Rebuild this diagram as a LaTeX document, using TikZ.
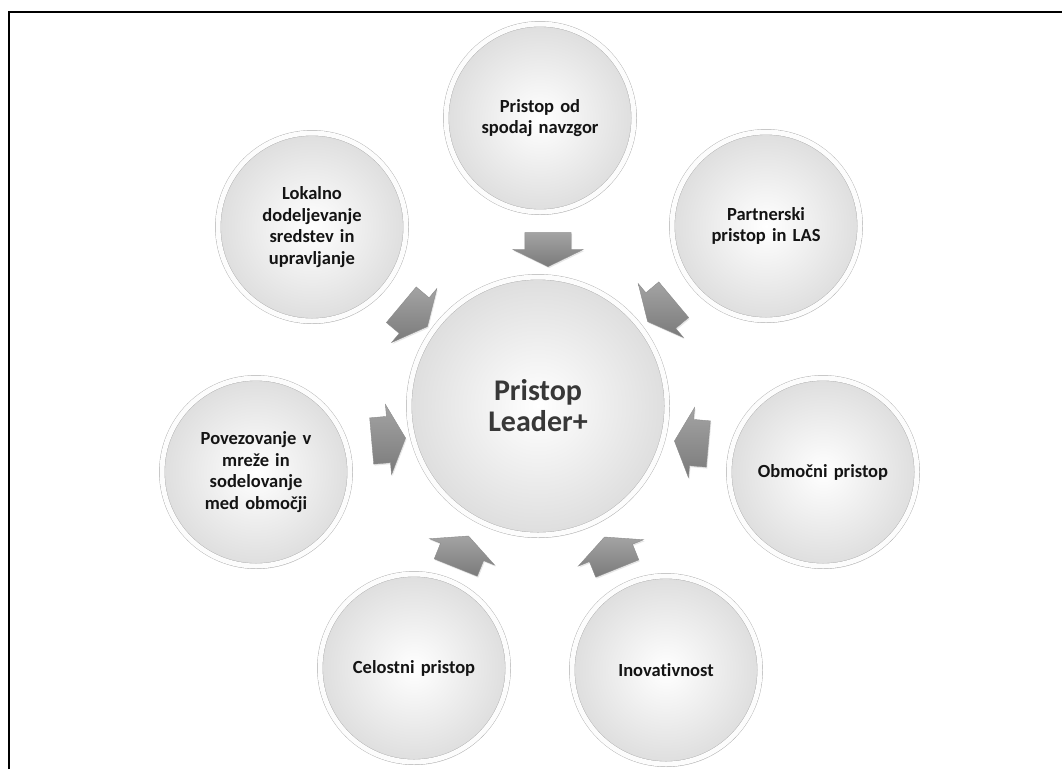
\documentclass[tikz,border=0pt]{standalone}
\usepackage{fontspec}
\setmainfont{Carlito}[Ligatures=NoCommon]
\usetikzlibrary{shapes,arrows,shadows}

\begin{document}
\begin{tikzpicture}[x=1pt,y=-1pt]
	\tikzstyle{cadre}=[line width=1.8pt]
	\tikzstyle{krog}=[circle,draw=black!32,double=black!1,double distance=5pt,
	inner color=white,outer color=black!13,inner sep=0pt,minimum size=188pt,
	text width=150pt,align=center,font=\fontsize{18.5}{21.5}\selectfont\bfseries,
	text=black!92,drop shadow={shadow xshift=1pt,shadow yshift=-3pt,opacity=.25}]
	\tikzstyle{sredina}=[krog,minimum size=258pt,text width=200pt,
	font=\fontsize{30}{31}\selectfont\bfseries,text=black!78]
	\tikzstyle{puscica}=[single arrow,minimum height=34pt,
	single arrow head extend=12pt,single arrow tip angle=128,inner xsep=0pt,
	inner ysep=23pt,draw=black!45,top color=black!36,bottom color=black!52,
	drop shadow={shadow xshift=1pt,shadow yshift=-1.5pt,opacity=.2}]

	\useasboundingbox (0,0) rectangle (1062,769);
	\draw[cadre] (9,769) -- (9,12) -- (1062,12);

	\node[sredina] (c) at (538,406) {Pristop\\Leader+};
	\node[krog] (k1) at (540,118) {Pristop od\\spodaj navzgor};
	\node[krog] (k2) at (766,226) {Partnerski\\pristop in LAS};
	\node[krog] (k3) at (823,472) {Območni pristop};
	\node[krog] (k4) at (666,670) {Inovativnost};
	\node[krog] (k5) at (414,668) {Celostni pristop};
	\node[krog] (k6) at (256,472) {Povezovanje v\\mreže in\\sodelovanje\\med območji};
	\node[krog] (k7) at (312,227) {Lokalno\\dodeljevanje\\sredstev in\\upravljanje};

	\node[puscica,rotate=-90] (a1) at (548,244) {};
	\node[puscica,rotate=220] (a2) at (665,307) {};
	\node[puscica,rotate=175] (a3) at (697,443) {};
	\node[puscica,rotate=112] (a4) at (613,558) {};
	\node[puscica,rotate=68] (a5) at (460,557) {};
	\node[puscica,rotate=5] (a6) at (383,440) {};
	\node[puscica,rotate=-40] (a7) at (410,312) {};
\end{tikzpicture}
\end{document}
